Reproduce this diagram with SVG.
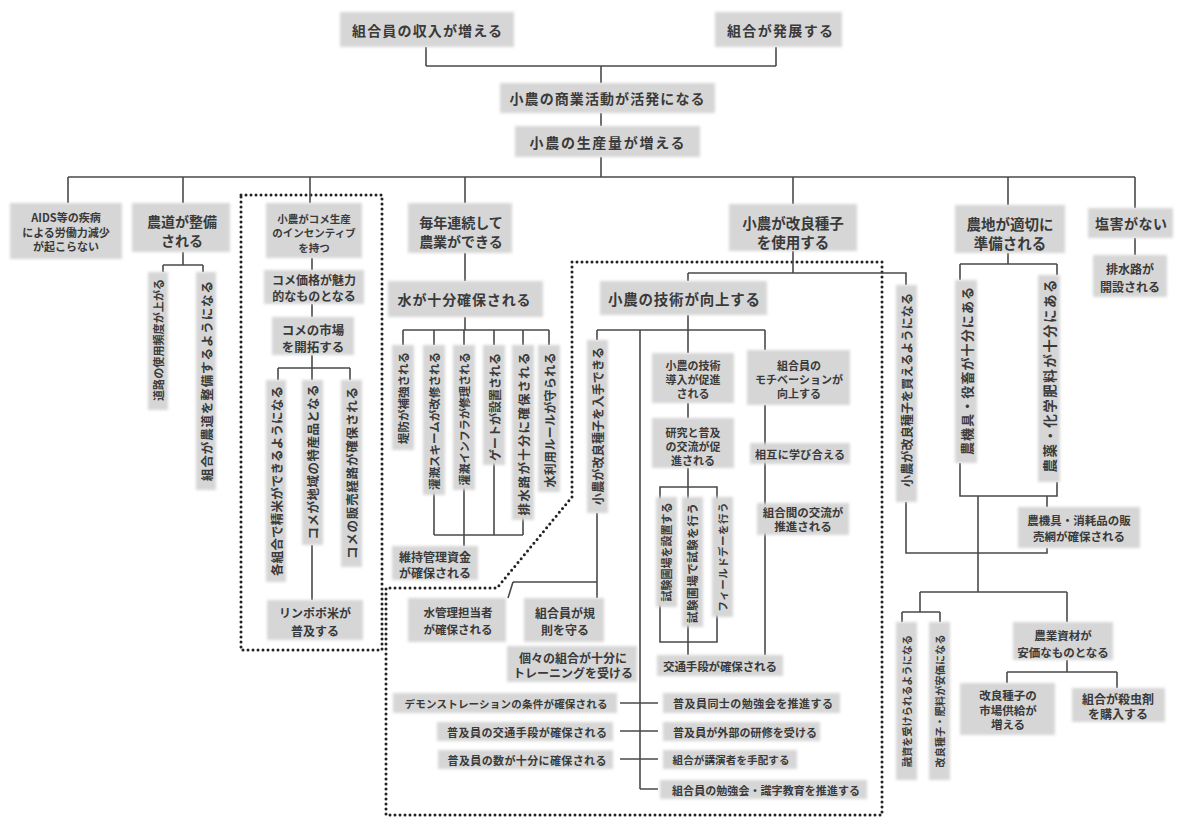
<svg xmlns="http://www.w3.org/2000/svg" width="1182" height="818" viewBox="0 0 1182 818">
  <defs>
    <filter id="soft" x="-30%" y="-30%" width="160%" height="160%">
      <feGaussianBlur stdDeviation="1.4"/>
    </filter>
    <style>
      .b { fill:#d6d6d6; filter:url(#soft); }
      .t { font-family:"Noto Sans CJK JP","Noto Sans CJK SC",sans-serif; font-weight:700; fill:#3a3a3a; text-anchor:middle; dominant-baseline:central; }
      .c { fill:none; stroke:#4a4a4a; stroke-width:1.6; }
      .dot { fill:none; stroke:#222; stroke-width:3; stroke-dasharray:0 5; stroke-linecap:round; }
    </style>
  </defs>
  <rect width="1182" height="818" fill="#ffffff"/>

  <!-- dotted groupings -->
  <g id="groups">
    <rect class="dot" x="241" y="195" width="141" height="455"/>
    <polygon class="dot" points="572,262 882,262 882,815 386,815 386,588 497,588 572,497"/>
  </g>

  <!-- connectors -->
  <g id="connectors" class="c">
    <path d="M426,47 V66 M776,47 V66 M426,66 H776 M601,66 V83 M601,113 V126 M601,157 V177"/>
    <path d="M68,177 H1135 M68,177 V203 M183,177 V203 M310,177 V203 M465,177 V203 M793,177 V204 M1008,177 V205 M1135,177 V208"/>
    <!-- farm road -->
    <path d="M183,252 V265 M163,265 H203 M163,265 V272 M203,265 V272"/>
    <!-- rice market -->
    <path d="M312,258 V270 M312,304 V317 M312,355 V380 M278,368 H350 M278,368 V380 M350,368 V380 M312,545 V600"/>
    <!-- water -->
    <path d="M465,253 V281 M465,317 V330 M403,330 H549 M403,330 V345 M434,330 V345 M464,330 V345 M494,330 V345 M523,330 V345 M549,330 V345"/>
    <path d="M434,492 V535 M494,463 V535 M523,517 V535 M434,535 H523 M464,487 V546"/>
    <!-- improved seed -->
    <path d="M793,251 V273 M688,273 H906 V285 M688,273 V281"/>
    <path d="M688,315 V330 M597,330 H765 M597,330 V340 M640,330 V789 M688,330 V353 M765,330 V350"/>
    <path d="M688,403 V418 M688,468 V487 M660,487 H717 V642 H660 Z M688,487 V642 M688,642 V655 M765,405 V655"/>
    <path d="M597,513 V598 M513,582 H597 M513,582 L508,598"/>
    <path d="M620,703 H658 M620,731 H658 M620,759 H658 M640,789 H658"/>
    <!-- land -->
    <path d="M1008,253 V264 M960,264 H1057 M960,264 V280 M1057,264 V275"/>
    <path d="M960,463 V496 H1057 V482 M1047,496 V507 M978,496 V592"/>
    <path d="M906,502 V553 H1047 V548"/>
    <path d="M920,592 H1067 M920,592 V612 M902,612 H940 M902,612 V622 M940,612 V622 M1067,592 V622"/>
    <path d="M1067,660 V672 M1007,672 H1117 M1007,672 V683 M1117,672 V688"/>
    <!-- salt -->
    <path d="M1135,238 V255"/>
  </g>

  <!-- top chain -->
  <g id="n-income"><rect class="b" x="340" y="12" width="174" height="35"/><text class="t" x="427" y="30" font-size="14" textLength="150">組合員の収入が増える</text></g>
  <g id="n-coop-grows"><rect class="b" x="715" y="12" width="127" height="35"/><text class="t" x="780" y="30" font-size="14" textLength="106">組合が発展する</text></g>
  <g id="n-commerce"><rect class="b" x="500" y="83" width="215" height="30"/><text class="t" x="607" y="98" font-size="14" textLength="195">小農の商業活動が活発になる</text></g>
  <g id="n-output"><rect class="b" x="515" y="126" width="185" height="31"/><text class="t" x="607" y="141.5" font-size="14" textLength="155">小農の生産量が増える</text></g>

  <!-- second level -->
  <g id="n-aids"><rect class="b" x="10" y="203" width="112" height="56"/><text class="t" font-size="11"><tspan x="66" y="217">AIDS等の疾病</tspan><tspan x="66" y="232">による労働力減少</tspan><tspan x="66" y="246">が起こらない</tspan></text></g>
  <g id="n-road"><rect class="b" x="132" y="203" width="98" height="49"/><text class="t" font-size="14"><tspan x="182" y="221">農道が整備</tspan><tspan x="182" y="240">される</tspan></text></g>
  <g id="n-road-use"><rect class="b" x="148" y="272" width="20" height="138"/><text class="t" transform="translate(158,340) rotate(-90)" font-size="11" textLength="122">道路の使用頻度が上がる</text></g>
  <g id="n-road-coop"><rect class="b" x="196" y="272" width="20" height="218"/><text class="t" transform="translate(206,381) rotate(-90)" font-size="12.5" textLength="200">組合が農道を整備するようになる</text></g>

  <!-- rice group -->
  <g id="n-incentive"><rect class="b" x="266" y="203" width="96" height="55"/><text class="t" font-size="10.5"><tspan x="314" y="218">小農がコメ生産</tspan><tspan x="314" y="232">のインセンティブ</tspan><tspan x="314" y="247">を持つ</tspan></text></g>
  <g id="n-price"><rect class="b" x="264" y="270" width="100" height="34"/><text class="t" font-size="12"><tspan x="314" y="279">コメ価格が魅力</tspan><tspan x="314" y="295">的なものとなる</tspan></text></g>
  <g id="n-market"><rect class="b" x="272" y="317" width="82" height="38"/><text class="t" font-size="12.5"><tspan x="313" y="329">コメの市場</tspan><tspan x="313" y="346">を開拓する</tspan></text></g>
  <g id="n-milling"><rect class="b" x="266" y="380" width="20" height="202"/><text class="t" transform="translate(276,481) rotate(-90)" font-size="12.5" textLength="190">各組合で精米ができるようになる</text></g>
  <g id="n-specialty"><rect class="b" x="302" y="380" width="21" height="165"/><text class="t" transform="translate(312.5,462) rotate(-90)" font-size="12.5" textLength="155">コメが地域の特産品となる</text></g>
  <g id="n-sales"><rect class="b" x="341" y="380" width="21" height="187"/><text class="t" transform="translate(351.5,473) rotate(-90)" font-size="12.5" textLength="172">コメの販売経路が確保される</text></g>
  <g id="n-limpopo"><rect class="b" x="267" y="600" width="96" height="40"/><text class="t" font-size="12"><tspan x="315" y="612">リンポポ米が</tspan><tspan x="315" y="630">普及する</tspan></text></g>

  <!-- year-round farming -->
  <g id="n-yearly"><rect class="b" x="408" y="203" width="104" height="50"/><text class="t" font-size="14"><tspan x="461" y="222">毎年連続して</tspan><tspan x="461" y="241">農業ができる</tspan></text></g>
  <g id="n-water"><rect class="b" x="388" y="281" width="155" height="36"/><text class="t" x="464" y="299" font-size="14" textLength="133">水が十分確保される</text></g>
  <g id="n-dike"><rect class="b" x="392" y="345" width="22" height="105"/><text class="t" transform="translate(403,398) rotate(-90)" font-size="11.5" textLength="92">堤防が補強される</text></g>
  <g id="n-scheme"><rect class="b" x="423" y="345" width="22" height="150"/><text class="t" transform="translate(434,421) rotate(-90)" font-size="11.5" textLength="138">灌漑スキームが改修される</text></g>
  <g id="n-infra"><rect class="b" x="453" y="345" width="22" height="145"/><text class="t" transform="translate(464,419) rotate(-90)" font-size="11" textLength="133">灌漑インフラが修理される</text></g>
  <g id="n-gate"><rect class="b" x="483" y="345" width="22" height="120"/><text class="t" transform="translate(494,407) rotate(-90)" font-size="12" textLength="108">ゲートが設置される</text></g>
  <g id="n-drainage"><rect class="b" x="512" y="345" width="22" height="175"/><text class="t" transform="translate(523,434) rotate(-90)" font-size="12.5" textLength="163">排水路が十分に確保される</text></g>
  <g id="n-water-rules"><rect class="b" x="538" y="345" width="22" height="147"/><text class="t" transform="translate(549,420) rotate(-90)" font-size="12" textLength="135">水利用ルールが守られる</text></g>
  <g id="n-fund"><rect class="b" x="392" y="546" width="86" height="34"/><text class="t" font-size="12"><tspan x="435" y="556">維持管理資金</tspan><tspan x="435" y="572">が確保される</tspan></text></g>

  <!-- improved seed and skills -->
  <g id="n-seed-use"><rect class="b" x="729" y="204" width="128" height="47"/><text class="t" font-size="14.5"><tspan x="793" y="222">小農が改良種子</tspan><tspan x="793" y="241">を使用する</tspan></text></g>
  <g id="n-skill"><rect class="b" x="600" y="281" width="167" height="34"/><text class="t" x="684" y="298" font-size="14.5" textLength="152">小農の技術が向上する</text></g>
  <g id="n-seed-get"><rect class="b" x="587" y="340" width="21" height="173"/><text class="t" transform="translate(597,426) rotate(-90)" font-size="12" textLength="158">小農が改良種子を入手できる</text></g>
  <g id="n-adopt"><rect class="b" x="652" y="353" width="82" height="50"/><text class="t" font-size="11"><tspan x="693" y="365">小農の技術</tspan><tspan x="693" y="379">導入が促進</tspan><tspan x="693" y="393">される</tspan></text></g>
  <g id="n-motivation"><rect class="b" x="747" y="350" width="103" height="55"/><text class="t" font-size="11"><tspan x="799" y="365">組合員の</tspan><tspan x="799" y="379">モチベーションが</tspan><tspan x="799" y="393">向上する</tspan></text></g>
  <g id="n-research"><rect class="b" x="652" y="418" width="82" height="50"/><text class="t" font-size="11"><tspan x="693" y="432">研究と普及</tspan><tspan x="693" y="446">の交流が促</tspan><tspan x="693" y="460">進される</tspan></text></g>
  <g id="n-mutual"><rect class="b" x="750" y="443" width="100" height="21"/><text class="t" x="800" y="453.5" font-size="11" textLength="90">相互に学び合える</text></g>
  <g id="n-inter-coop"><rect class="b" x="757" y="503" width="92" height="32"/><text class="t" font-size="11.5"><tspan x="803" y="512">組合間の交流が</tspan><tspan x="803" y="526">推進される</tspan></text></g>
  <g id="n-trial-plot"><rect class="b" x="656" y="497" width="21" height="110"/><text class="t" transform="translate(666,552) rotate(-90)" font-size="11" textLength="99">試験圃場を設置する</text></g>
  <g id="n-trial-run"><rect class="b" x="682" y="497" width="21" height="130"/><text class="t" transform="translate(692,563) rotate(-90)" font-size="11.5" textLength="120">試験圃場で試験を行う</text></g>
  <g id="n-field-day"><rect class="b" x="712" y="497" width="21" height="120"/><text class="t" transform="translate(722,557) rotate(-90)" font-size="10.5" textLength="109">フィールドデーを行う</text></g>
  <g id="n-transport"><rect class="b" x="657" y="655" width="126" height="21"/><text class="t" x="720" y="665.5" font-size="11.5" textLength="114">交通手段が確保される</text></g>
  <g id="n-water-manager"><rect class="b" x="408" y="598" width="98" height="44"/><text class="t" font-size="11.5"><tspan x="458" y="612">水管理担当者</tspan><tspan x="458" y="629">が確保される</tspan></text></g>
  <g id="n-rules"><rect class="b" x="524" y="598" width="80" height="44"/><text class="t" font-size="12"><tspan x="565" y="612">組合員が規</tspan><tspan x="565" y="629">則を守る</tspan></text></g>
  <g id="n-training"><rect class="b" x="507" y="646" width="130" height="36"/><text class="t" font-size="12"><tspan x="573" y="657">個々の組合が十分に</tspan><tspan x="573" y="672">トレーニングを受ける</tspan></text></g>

  <!-- extension list -->
  <g id="n-demo"><rect class="b" x="393" y="693" width="224" height="20"/><text class="t" x="506" y="703" font-size="10.5" textLength="203">デモンストレーションの条件が確保される</text></g>
  <g id="n-ext-transport"><rect class="b" x="437" y="722" width="176" height="19"/><text class="t" x="527" y="731.5" font-size="11" textLength="160">普及員の交通手段が確保される</text></g>
  <g id="n-ext-number"><rect class="b" x="438" y="750" width="175" height="19"/><text class="t" x="527" y="759.5" font-size="11" textLength="159">普及員の数が十分に確保される</text></g>
  <g id="n-ext-study"><rect class="b" x="663" y="693" width="177" height="20"/><text class="t" x="753" y="703" font-size="11" textLength="160">普及員同士の勉強会を推進する</text></g>
  <g id="n-ext-training"><rect class="b" x="663" y="722" width="157" height="19"/><text class="t" x="745" y="731.5" font-size="11" textLength="144">普及員が外部の研修を受ける</text></g>
  <g id="n-speakers"><rect class="b" x="663" y="750" width="134" height="19"/><text class="t" x="731" y="759.5" font-size="10.5" textLength="117">組合が講演者を手配する</text></g>
  <g id="n-literacy"><rect class="b" x="660" y="780" width="207" height="19"/><text class="t" x="766" y="789.5" font-size="11" textLength="188">組合員の勉強会・識字教育を推進する</text></g>

  <!-- land and inputs -->
  <g id="n-seed-buy"><rect class="b" x="896" y="285" width="21" height="217"/><text class="t" transform="translate(906,390) rotate(-90)" font-size="12" textLength="194">小農が改良種子を買えるようになる</text></g>
  <g id="n-land"><rect class="b" x="955" y="205" width="110" height="48"/><text class="t" font-size="14.5"><tspan x="1010" y="223">農地が適切に</tspan><tspan x="1010" y="242">準備される</tspan></text></g>
  <g id="n-machinery"><rect class="b" x="955" y="280" width="22" height="183"/><text class="t" transform="translate(966,371) rotate(-90)" font-size="13" textLength="168">農機具・役畜が十分にある</text></g>
  <g id="n-fertilizer"><rect class="b" x="1038" y="275" width="22" height="207"/><text class="t" transform="translate(1049,376) rotate(-90)" font-size="13.5" textLength="193">農薬・化学肥料が十分にある</text></g>
  <g id="n-supply"><rect class="b" x="1018" y="507" width="122" height="41"/><text class="t" font-size="11.5"><tspan x="1079" y="520">農機具・消耗品の販</tspan><tspan x="1079" y="536">売網が確保される</tspan></text></g>
  <g id="n-salt"><rect class="b" x="1088" y="208" width="85" height="30"/><text class="t" x="1131" y="223" font-size="14" textLength="72">塩害がない</text></g>
  <g id="n-drain"><rect class="b" x="1093" y="255" width="74" height="42"/><text class="t" font-size="12"><tspan x="1130" y="268">排水路が</tspan><tspan x="1130" y="286">開設される</tspan></text></g>
  <g id="n-credit"><rect class="b" x="896" y="622" width="21" height="158"/><text class="t" transform="translate(906,701) rotate(-90)" font-size="10" textLength="132">融資を受けられるようになる</text></g>
  <g id="n-cheap-seed"><rect class="b" x="929" y="622" width="21" height="158"/><text class="t" transform="translate(939,701) rotate(-90)" font-size="10" textLength="133">改良種子・肥料が安価になる</text></g>
  <g id="n-inputs"><rect class="b" x="1013" y="622" width="100" height="38"/><text class="t" font-size="11.5"><tspan x="1063" y="635">農業資材が</tspan><tspan x="1063" y="652">安価なものとなる</tspan></text></g>
  <g id="n-seed-market"><rect class="b" x="960" y="683" width="95" height="52"/><text class="t" font-size="11.5"><tspan x="1008" y="695">改良種子の</tspan><tspan x="1008" y="709.5">市場供給が</tspan><tspan x="1008" y="724">増える</tspan></text></g>
  <g id="n-pesticide"><rect class="b" x="1072" y="688" width="93" height="34"/><text class="t" font-size="12"><tspan x="1118" y="698">組合が殺虫剤</tspan><tspan x="1118" y="713">を購入する</tspan></text></g>
</svg>
